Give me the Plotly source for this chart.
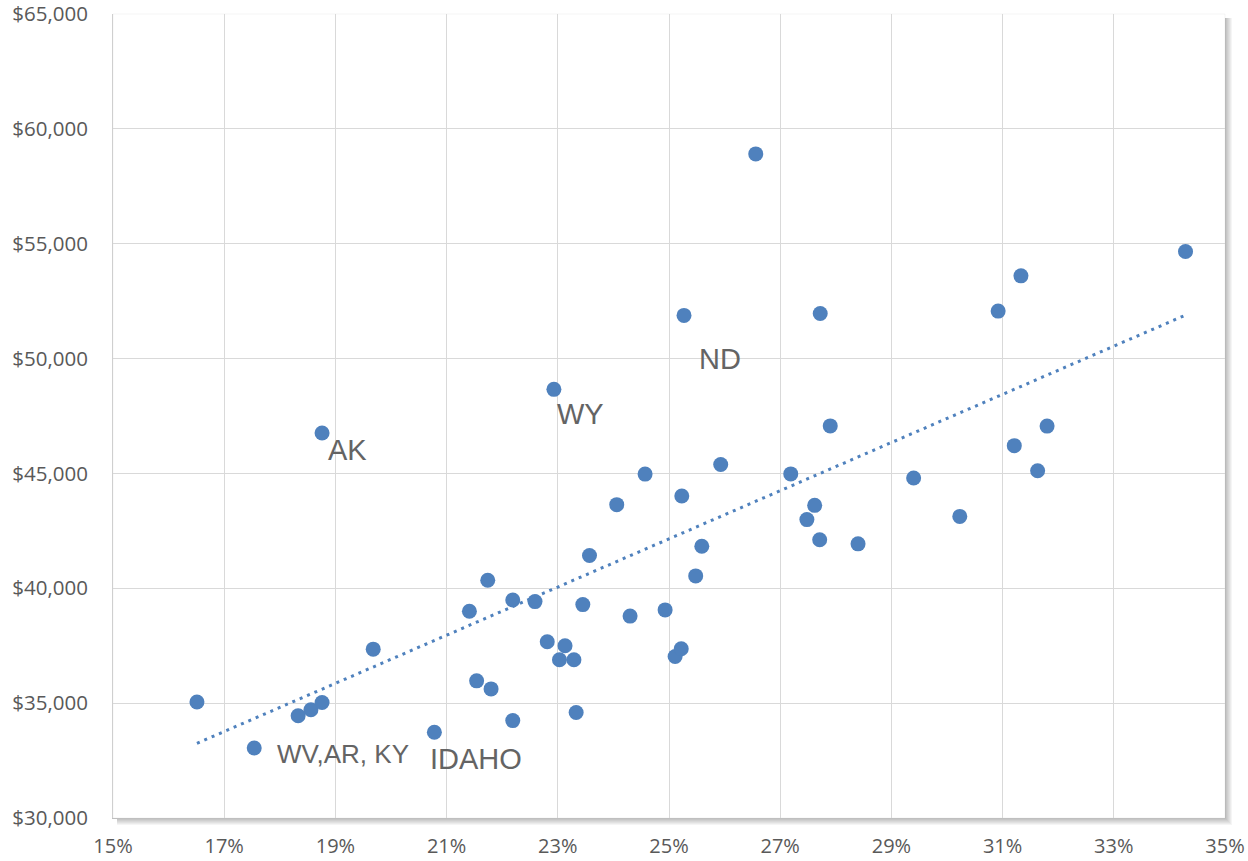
import numpy as np
import plotly.graph_objects as go

# ---- data ----
pct = [16.51, 17.54, 18.33, 18.56, 18.76, 18.76, 19.68, 20.78, 21.41, 21.54,
       21.74, 21.80, 22.19, 22.19, 22.59, 22.81, 22.93, 23.03, 23.13, 23.29,
       23.33, 23.45, 23.57, 24.06, 24.30, 24.57, 24.93, 25.11, 25.22, 25.23,
       25.27, 25.48, 25.59, 25.93, 26.56, 27.19, 27.48, 27.62, 27.71, 27.72,
       27.90, 28.40, 29.40, 30.23, 30.92, 31.21, 31.33, 31.63, 31.80, 34.29]
income = [35050, 33050, 34450, 34710, 35030, 46760, 37350, 33730, 39000, 35970,
          40350, 35620, 39490, 34240, 39420, 37670, 48660, 36890, 37500, 36890,
          34590, 39290, 41430, 43640, 38790, 44970, 39060, 37030, 37370, 44020,
          51880, 40540, 41830, 45390, 58910, 44980, 42990, 43610, 42110, 51960,
          47070, 41935, 44800, 43130, 52066, 46210, 53600, 45115, 47060, 54660]

labels = ["AK", "WY", "ND", "WV,AR, KY", "IDAHO"]
label_x = [19.22, 23.40, 25.91, 19.13, 21.53]
label_y = [46000, 47600, 50000, 32780, 32550]
label_size = [29, 29, 29, 26, 29]

x_ticks = list(range(15, 36, 2))
y_ticks = list(range(30000, 65001, 5000))

# ---- trendline (least squares, like Excel's linear trendline) ----
slope, intercept = np.polyfit(pct, income, 1)
tx = np.array([min(pct), max(pct)])
ty = slope * tx + intercept

blue = "#4F81BD"
W, H = 1248, 861
ml, mr, mt, mb = 113, 23, 14, 43
pw, ph = W - ml - mr, H - mt - mb

fig = go.Figure()
fig.add_trace(go.Scatter(x=pct, y=income, mode="markers",
                         marker=dict(size=15, color=blue),
                         showlegend=False, hoverinfo="x+y"))
fig.add_trace(go.Scatter(x=tx, y=ty, mode="lines",
                         line=dict(color=blue, width=3, dash="3px,5px"),
                         showlegend=False, hoverinfo="skip"))

for t, xx, yy, s in zip(labels, label_x, label_y, label_size):
    fig.add_annotation(x=xx, y=yy, text=t, showarrow=False,
                       xanchor="center", yanchor="middle",
                       font=dict(family="Liberation Sans, Arial", size=s, color="#646464"))

# soft shadow on right / bottom edge of plot area
shapes = []
for i in range(1, 8):
    shapes.append(dict(type="rect", xref="paper", yref="paper", layer="below",
                       x0=4 / pw, x1=1 + i / pw, y0=-i / ph, y1=1 - 4 / ph,
                       fillcolor="rgba(0,0,0,0.04)", line=dict(width=0)))
shapes.append(dict(type="rect", xref="paper", yref="paper", layer="below",
                   x0=0, x1=1, y0=0, y1=1, fillcolor="white",
                   line=dict(width=1, color="rgba(0,0,0,0.04)")))

tickfont = dict(family="Open Sans, Noto Sans", size=20.5, color="#595959")
xtickfont = dict(family="Open Sans, Noto Sans", size=20, color="#595959")
fig.update_layout(
    width=W, height=H,
    margin=dict(l=ml, r=mr, t=mt, b=mb, autoexpand=False),
    paper_bgcolor="white", plot_bgcolor="rgba(0,0,0,0)",
    shapes=shapes,
    xaxis=dict(range=[15, 35], tickvals=x_ticks, ticktext=[f"{v}%" for v in x_ticks],
               showgrid=True, gridcolor="#D9D9D9", gridwidth=1, zeroline=False,
               showline=True, linecolor="#BFBFBF", linewidth=1, automargin=False,
               ticks="", tickfont=xtickfont, ticklabelstandoff=10,
               ticklabeloverflow="allow"),
    yaxis=dict(range=[30000, 65000], tickvals=y_ticks, ticktext=[f"${v:,}" for v in y_ticks],
               showgrid=True, gridcolor="#D9D9D9", gridwidth=1, zeroline=False,
               showline=True, linecolor="#CFCFCF", linewidth=1, automargin=False,
               ticks="", tickfont=tickfont, ticklabelstandoff=20,
               ticklabeloverflow="allow"),
)

fig.write_html("out.html", config={"displayModeBar": False},
               post_script="document.body.style.margin='0';")
